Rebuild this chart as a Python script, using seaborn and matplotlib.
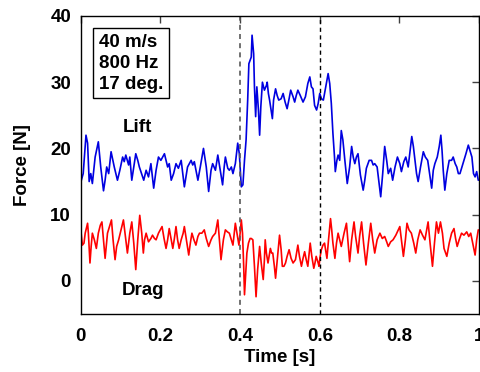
import matplotlib
matplotlib.use('Agg')
import matplotlib.pyplot as plt
import pandas as pd
import seaborn as sns

# Lift force trace (time [s], force [N])
lift_t = [0.000, 0.006, 0.013, 0.017, 0.021, 0.025, 0.029, 0.036, 0.044, 0.050,
          0.057, 0.061, 0.065, 0.070, 0.076, 0.084, 0.092, 0.098, 0.105, 0.109,
          0.113, 0.120, 0.123, 0.128, 0.138, 0.143, 0.147, 0.158, 0.164, 0.170,
          0.176, 0.183, 0.189, 0.195, 0.201, 0.210, 0.218, 0.222, 0.227, 0.233,
          0.239, 0.245, 0.252, 0.260, 0.268, 0.277, 0.281, 0.285, 0.294, 0.300,
          0.308, 0.315, 0.321, 0.327, 0.331, 0.338, 0.344, 0.350, 0.356, 0.360,
          0.363, 0.369, 0.373, 0.378, 0.382, 0.388, 0.394, 0.398, 0.403, 0.407,
          0.411, 0.415, 0.419, 0.422, 0.428, 0.430, 0.434, 0.436, 0.439, 0.442,
          0.446, 0.449, 0.452, 0.456, 0.459, 0.461, 0.466, 0.468, 0.471, 0.474,
          0.481, 0.484, 0.489, 0.493, 0.497, 0.503, 0.508, 0.513, 0.518, 0.523,
          0.527, 0.533, 0.537, 0.541, 0.545, 0.551, 0.558, 0.564, 0.570, 0.575,
          0.579, 0.583, 0.587, 0.592, 0.596, 0.600, 0.604, 0.609, 0.615, 0.621,
          0.625, 0.629, 0.633, 0.637, 0.639, 0.643, 0.646, 0.650, 0.654, 0.658,
          0.663, 0.669, 0.675, 0.680, 0.684, 0.688, 0.692, 0.696, 0.702, 0.709,
          0.713, 0.717, 0.724, 0.730, 0.734, 0.738, 0.744, 0.749, 0.753, 0.758,
          0.763, 0.768, 0.772, 0.778, 0.783, 0.789, 0.795, 0.801, 0.805, 0.811,
          0.816, 0.822, 0.826, 0.831, 0.835, 0.839, 0.843, 0.847, 0.853, 0.860,
          0.865, 0.871, 0.877, 0.881, 0.885, 0.889, 0.895, 0.900, 0.904, 0.907,
          0.910, 0.914, 0.919, 0.925, 0.931, 0.935, 0.940, 0.944, 0.948, 0.952,
          0.957, 0.962, 0.967, 0.973, 0.977, 0.982, 0.986, 0.990, 0.994, 0.998]
lift_f = [14.9, 16.2, 22.0, 20.8, 15.0, 16.2, 14.7, 18.7, 21.0, 17.2,
          13.6, 15.2, 17.2, 16.2, 19.5, 17.2, 15.2, 16.7, 18.7, 18.0,
          19.0, 17.5, 18.7, 15.2, 19.2, 18.2, 17.2, 15.2, 16.7, 15.7,
          17.7, 14.0, 16.7, 18.7, 18.2, 19.2, 17.2, 17.7, 15.2, 16.2,
          17.7, 17.0, 18.2, 14.2, 17.2, 18.2, 17.5, 18.0, 15.2, 17.2,
          20.0, 17.2, 13.5, 16.7, 17.7, 16.7, 19.0, 16.7, 14.5, 17.2,
          18.7, 17.0, 16.7, 17.2, 16.2, 17.7, 20.8, 19.2, 14.2, 14.5,
          18.2, 21.3, 27.3, 32.8, 33.8, 37.1, 34.3, 29.3, 24.8, 29.3,
          25.8, 22.0, 26.3, 30.0, 29.3, 28.8, 29.5, 30.0, 28.3, 27.3,
          24.5, 27.3, 29.0, 28.0, 27.3, 27.5, 28.3, 27.0, 26.0, 27.5,
          28.8, 27.8, 27.0, 28.0, 28.8, 28.0, 27.0, 27.8, 29.8, 30.8,
          29.3, 29.0, 26.5, 25.8, 26.8, 28.3, 27.5, 27.3, 29.3, 31.3,
          29.8, 26.8, 22.3, 18.7, 16.5, 18.2, 19.0, 18.2, 22.7, 21.3,
          18.2, 14.7, 17.2, 20.3, 18.7, 17.7, 18.7, 19.2, 16.0, 13.7,
          15.2, 17.0, 18.2, 18.2, 17.5, 17.7, 17.2, 14.7, 12.7, 16.2,
          20.3, 18.2, 16.2, 17.0, 15.2, 17.2, 18.7, 17.7, 16.5, 18.0,
          18.7, 17.2, 19.2, 21.8, 20.3, 18.2, 16.2, 15.0, 17.2, 19.5,
          18.7, 18.2, 15.7, 14.0, 16.7, 17.7, 18.7, 20.3, 22.0, 19.7,
          16.7, 13.7, 16.2, 18.2, 18.2, 18.7, 17.7, 17.2, 16.2, 16.2,
          17.2, 18.2, 19.2, 20.5, 19.7, 18.7, 16.2, 15.7, 16.5, 15.2]

# Drag force trace (time [s], force [N])
drag_t = [0.000, 0.004, 0.008, 0.011, 0.017, 0.019, 0.023, 0.026, 0.029, 0.034,
          0.039, 0.044, 0.049, 0.053, 0.057, 0.061, 0.067, 0.072, 0.077, 0.081,
          0.086, 0.090, 0.095, 0.101, 0.107, 0.112, 0.117, 0.123, 0.128, 0.133,
          0.138, 0.143, 0.148, 0.153, 0.157, 0.160, 0.164, 0.170, 0.176, 0.180,
          0.185, 0.189, 0.195, 0.204, 0.209, 0.214, 0.218, 0.222, 0.227, 0.231,
          0.235, 0.239, 0.243, 0.247, 0.252, 0.257, 0.260, 0.265, 0.271, 0.275,
          0.279, 0.284, 0.289, 0.294, 0.298, 0.304, 0.310, 0.315, 0.321, 0.327,
          0.331, 0.338, 0.344, 0.348, 0.352, 0.358, 0.363, 0.368, 0.373, 0.382,
          0.388, 0.392, 0.397, 0.400, 0.403, 0.406, 0.409, 0.411, 0.414, 0.417,
          0.421, 0.425, 0.428, 0.432, 0.436, 0.440, 0.444, 0.449, 0.453, 0.458,
          0.461, 0.463, 0.466, 0.470, 0.476, 0.479, 0.482, 0.486, 0.489, 0.494,
          0.499, 0.503, 0.506, 0.510, 0.514, 0.518, 0.523, 0.528, 0.533, 0.539,
          0.545, 0.549, 0.554, 0.558, 0.562, 0.566, 0.570, 0.576, 0.580, 0.585,
          0.588, 0.591, 0.596, 0.598, 0.601, 0.604, 0.608, 0.612, 0.618, 0.622,
          0.627, 0.630, 0.633, 0.638, 0.642, 0.646, 0.650, 0.654, 0.661, 0.667,
          0.671, 0.675, 0.680, 0.686, 0.690, 0.696, 0.700, 0.705, 0.710, 0.716,
          0.722, 0.728, 0.733, 0.738, 0.744, 0.751, 0.757, 0.763, 0.768, 0.772,
          0.778, 0.784, 0.791, 0.797, 0.801, 0.805, 0.810, 0.815, 0.819, 0.824,
          0.830, 0.836, 0.841, 0.846, 0.852, 0.858, 0.864, 0.872, 0.877, 0.883,
          0.888, 0.893, 0.898, 0.903, 0.908, 0.912, 0.919, 0.925, 0.931, 0.937,
          0.941, 0.945, 0.950, 0.956, 0.962, 0.969, 0.974, 0.979, 0.984, 0.990,
          0.994, 0.998]
drag_f = [7.7, 5.4, 5.7, 7.2, 8.7, 7.2, 2.7, 5.2, 7.2, 6.2,
          4.9, 7.2, 8.4, 8.9, 6.2, 3.4, 7.2, 8.2, 9.2, 6.2,
          3.2, 5.2, 6.2, 7.7, 9.2, 6.7, 4.2, 7.2, 8.9, 5.7,
          1.7, 6.2, 9.9, 7.2, 4.2, 6.2, 7.2, 5.9, 6.4, 6.9,
          6.4, 6.2, 7.2, 8.2, 6.4, 4.9, 6.2, 7.9, 6.2, 4.9,
          6.4, 8.2, 6.2, 4.9, 6.2, 7.2, 8.2, 6.2, 3.9, 5.7,
          7.2, 6.2, 5.4, 6.7, 7.2, 7.2, 7.7, 6.4, 5.2, 6.2,
          6.7, 7.2, 9.2, 6.2, 3.2, 6.2, 7.7, 7.4, 7.2, 5.4,
          8.7, 7.2, 5.4, 7.2, 9.2, 7.2, 2.2, -2.1, 1.2, 4.2,
          5.7, 6.4, 6.4, 6.2, 2.2, -2.4, 1.7, 5.2, 2.7, 0.2,
          3.2, 6.2, 4.2, 2.7, 4.9, 4.2, 4.2, 2.2, 0.4, 3.7,
          6.9, 4.7, 2.2, 2.2, 2.7, 3.7, 4.7, 3.4, 2.7, 3.2,
          5.4, 3.7, 2.2, 3.4, 4.4, 3.2, 2.2, 5.7, 3.7, 1.9,
          2.7, 3.7, 2.7, 2.2, 3.7, 4.7, 5.4, 5.7, 3.4, 6.2,
          9.4, 7.7, 5.7, 3.4, 5.7, 7.2, 6.2, 5.2, 7.2, 8.7,
          5.7, 2.9, 6.2, 8.9, 6.7, 4.2, 6.7, 8.9, 5.7, 2.4,
          5.7, 8.7, 6.2, 4.2, 6.2, 7.2, 6.4, 6.7, 5.9, 5.2,
          5.9, 6.2, 6.9, 7.7, 8.2, 6.2, 3.7, 6.2, 8.7, 7.7,
          7.2, 5.7, 4.2, 6.2, 7.7, 6.9, 6.2, 8.9, 5.7, 2.2,
          5.7, 8.9, 7.2, 8.9, 7.2, 4.9, 3.7, 5.7, 7.2, 7.9,
          6.4, 5.2, 6.2, 7.2, 6.9, 7.4, 6.7, 7.2, 5.7, 3.9,
          6.2, 7.7]

pulse_times = [0.4, 0.6]
info_text = "40 m/s\n800 Hz\n17 deg."

lift_df = pd.DataFrame({'Time': lift_t, 'Force': lift_f})
drag_df = pd.DataFrame({'Time': drag_t, 'Force': drag_f})

sns.set_style('white')
plt.rcParams['font.family'] = ['Liberation Sans', 'DejaVu Sans']
plt.rcParams['font.weight'] = 'bold'
plt.rcParams['text.color'] = 'black'
plt.rcParams['axes.labelcolor'] = 'black'
plt.rcParams['xtick.color'] = 'black'
plt.rcParams['ytick.color'] = 'black'

fig = plt.figure(figsize=(4.81, 3.72), dpi=100)
ax = fig.add_axes([0.168, 0.156, 0.828, 0.801])

sns.lineplot(data=lift_df, x='Time', y='Force', color='#0000e0', lw=1.2,
             estimator=None, sort=False, ax=ax)
sns.lineplot(data=drag_df, x='Time', y='Force', color='#ff0000', lw=1.2,
             estimator=None, sort=False, ax=ax)

ax.axvline(pulse_times[0], color='0.35', ls='--', lw=1.2, dashes=(3, 2.5))
ax.axvline(pulse_times[1], color='black', ls='--', lw=1.0, dashes=(3, 2.5))

ax.set_xlim(0, 1)
ax.set_ylim(-5, 40)
ax.set_xticks([0, 0.2, 0.4, 0.6, 0.8, 1])
ax.set_xticklabels(['0', '0.2', '0.4', '0.6', '0.8', '1'])
ax.set_yticks([0, 10, 20, 30, 40])
ax.tick_params(direction='in', length=5, width=1, top=True, right=True,
               labelsize=13.5, color='0.25')
ax.tick_params(axis='x', pad=10)
ax.tick_params(axis='y', pad=7)
for lbl in ax.get_xticklabels() + ax.get_yticklabels():
    lbl.set_fontweight('bold')
for sp in ax.spines.values():
    sp.set_color('black')
    sp.set_linewidth(1.0)

ax.set_xlabel('Time [s]', fontsize=13.5, fontweight='bold', labelpad=3)
ax.set_ylabel('Force [N]', fontsize=13.5, fontweight='bold', labelpad=14)

ax.text(0.045, 0.94, info_text, transform=ax.transAxes, ha='left', va='top',
        fontsize=13.5, fontweight='bold', linespacing=1.3,
        bbox=dict(boxstyle='square,pad=0.3', fc='white', ec='black', lw=1.0))
ax.text(0.142, 0.627, 'Lift', transform=ax.transAxes, ha='center', va='center',
        fontsize=13.5, fontweight='bold')
ax.text(0.155, 0.08, 'Drag', transform=ax.transAxes, ha='center', va='center',
        fontsize=13.5, fontweight='bold')

fig.savefig('out.png', dpi=100)
